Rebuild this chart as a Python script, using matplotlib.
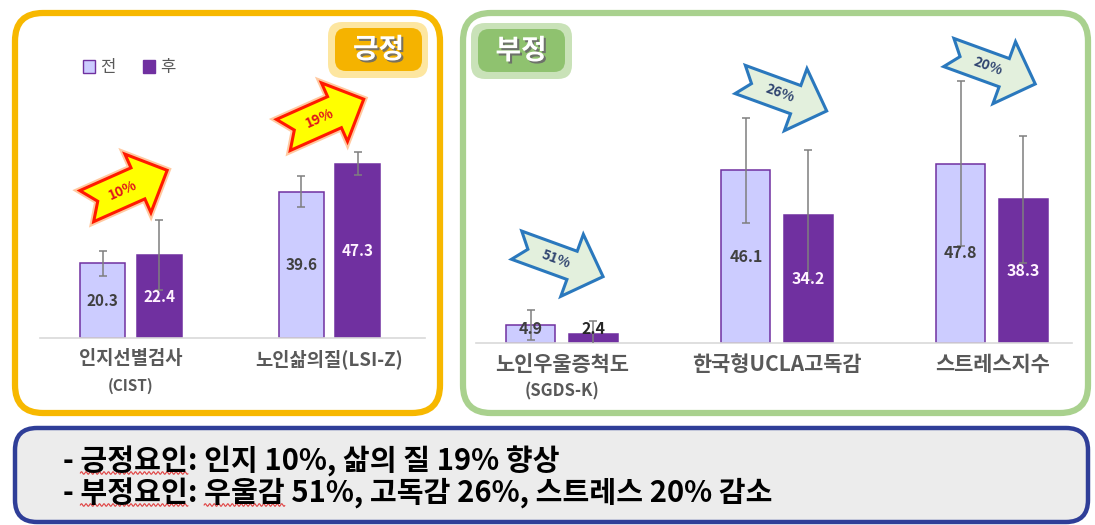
import numpy as np
import matplotlib
matplotlib.use('Agg')
import matplotlib.pyplot as plt
from matplotlib.patches import FancyBboxPatch, Polygon, Patch
from matplotlib.lines import Line2D
from matplotlib.transforms import Affine2D, ScaledTranslation
import matplotlib.patheffects as pe

plt.rcParams['font.family'] = ['Noto Sans CJK KR', 'DejaVu Sans']

# 긍정 요인 데이터
pos_cats = ['인지선별검사', '노인삶의질(LSI-Z)']
pos_sub = ['(CIST)', '']
pos_before = [20.3, 39.6]
pos_after = [22.4, 47.3]
pos_err_before = [3.4, 4.2]
pos_err_after = [9.5, 3.2]
pos_change = ['10%', '19%']

# 부정 요인 데이터
neg_cats = ['노인우울증척도', '한국형UCLA고독감', '스트레스지수']
neg_sub = ['(SGDS-K)', '', '']
neg_before = [4.9, 46.1, 47.8]
neg_after = [2.4, 34.2, 38.3]
neg_err_before = [4.0, 14.0, 22.0]
neg_err_after = [3.5, 17.4, 17.0]
neg_change = ['51%', '26%', '20%']

summary = ['- 긍정요인: 인지 10%, 삶의 질 19% 향상',
           '- 부정요인: 우울감 51%, 고독감 26%, 스트레스 20% 감소']

LIGHT = '#ccccff'
PURPLE = '#7030a0'
SUMMARY_FS = 21

W, H = 1095, 525
fig = plt.figure(figsize=(W / 100, H / 100), dpi=100)


# 픽셀 좌표(위 기준)로 둥근 상자 그리기
def rbox(x0, y0, x1, y1, r, **kw):
    p = FancyBboxPatch((x0 / 100, (H - y1) / 100), (x1 - x0) / 100, (y1 - y0) / 100,
                       boxstyle=f'round,pad=0,rounding_size={r / 100}',
                       transform=fig.dpi_scale_trans, **kw)
    fig.add_artist(p)
    return p


# 패널 테두리
rbox(15, 13, 440, 413, 28, fc='white', ec='#f7b800', lw=4.5, zorder=-5)
rbox(463, 13, 1088, 413, 28, fc='white', ec='#a9d18e', lw=4.5, zorder=-5)
rbox(15, 428, 1088, 522, 22, fc='#ececec', ec='#2f3e98', lw=3.2, zorder=-5)

# 배지
shadow = [pe.SimplePatchShadow(offset=(1.5, -1.5), shadow_rgbFace='#6a6a6a', alpha=0.9), pe.Normal()]
rbox(328, 22, 428, 78, 14, fc='#fde6a0', ec='none', zorder=1)
rbox(335, 28, 422, 71, 11, fc='#f5b300', ec='none', zorder=1)
fig.text(378.5 / W, 1 - 50 / H, '긍정', fontsize=20, fontweight='bold', color='white',
         ha='center', va='center', path_effects=shadow)
rbox(471, 23, 572, 79, 14, fc='#c9e2b8', ec='none', zorder=1)
rbox(478, 29, 565, 72, 11, fc='#8fc26f', ec='none', zorder=1)
fig.text(521 / W, 1 - 51 / H, '부정', fontsize=20, fontweight='bold', color='white',
         ha='center', va='center', path_effects=shadow)


def notched_arrow(ax, x, y, ang, L, hs, hh, hl, notch, fc, ec, text, tc, italic, glow=None):
    pts = np.array([[-L / 2, hs], [-L / 2 + notch, 0], [-L / 2, -hs], [L / 2 - hl, -hs],
                    [L / 2 - hl, -hh], [L / 2, 0], [L / 2 - hl, hh], [L / 2 - hl, hs]])
    tr = Affine2D().rotate_deg(ang) + ScaledTranslation(x, y, ax.transData)
    poly = Polygon(pts, closed=True, fc=fc, ec=ec, lw=2.2, transform=tr, clip_on=False,
                   zorder=5, joinstyle='miter')
    if glow:
        poly.set_path_effects([pe.Stroke(linewidth=5, foreground=glow), pe.Normal()])
    ax.add_patch(poly)
    ax.text(-4 * np.cos(np.radians(ang)), -4 * np.sin(np.radians(ang)), text,
            transform=ScaledTranslation(x, y, ax.transData), rotation=ang,
            rotation_mode='anchor', ha='center', va='center', fontsize=10,
            fontweight='bold', style='italic' if italic else 'normal', color=tc,
            zorder=6, clip_on=False)


def draw_panel(ax, cats, subs, before, after, eb, ea, width, off, xlim, fs, cat_fs, sub_fs):
    x = np.arange(len(cats))
    ax.bar(x - off, before, width, color=LIGHT, edgecolor=PURPLE, linewidth=1.1, zorder=2, label='전')
    ax.bar(x + off, after, width, color=PURPLE, edgecolor=PURPLE, linewidth=1.1, zorder=2, label='후')
    ax.errorbar(x - off, before, yerr=eb, fmt='none', ecolor='#7f7f7f', elinewidth=1.1,
                capsize=3, capthick=1.1, zorder=3)
    ax.errorbar(x + off, after, yerr=ea, fmt='none', ecolor='#7f7f7f', elinewidth=1.1,
                capsize=3, capthick=1.1, zorder=3)
    for xi, v in zip(x - off, before):
        ax.text(xi, max(v / 2, 3.7), f'{v}', ha='center', va='center', fontsize=fs,
                fontweight='bold', color='#404040', zorder=4)
    for xi, v in zip(x + off, after):
        ax.text(xi, max(v / 2, 3.7), f'{v}', ha='center', va='center', fontsize=fs,
                fontweight='bold', color='#fff2ff' if v > 10 else '#262626', zorder=4)
    ax.set_xlim(*xlim)
    ax.set_ylim(0, 83.5)
    ax.set_facecolor('none')
    for s in ['top', 'right', 'left']:
        ax.spines[s].set_visible(False)
    ax.spines['bottom'].set_color('#d9d9d9')
    ax.spines['bottom'].set_linewidth(1.2)
    ax.set_yticks([])
    ax.set_xticks(x, cats)
    ax.tick_params(axis='x', length=0, pad=8, labelsize=cat_fs, labelcolor='#595959')
    for lab in ax.get_xticklabels():
        lab.set_fontweight('bold')
    for xi, s in zip(x, subs):
        if s:
            ax.annotate(s, xy=(xi, 0), xycoords=('data', 'axes fraction'), xytext=(0, -48),
                        textcoords='offset pixels', ha='center', va='center', fontsize=sub_fs,
                        fontweight='bold', color='#595959')


axL = fig.add_axes([40 / W, 1 - 338 / H, 385 / W, 308 / H])
draw_panel(axL, pos_cats, pos_sub, pos_before, pos_after, pos_err_before, pos_err_after,
           0.227, 0.142, (-0.458, 1.481), 11, 13.5, 11)
axL.legend(handles=[Patch(fc=LIGHT, ec=PURPLE, lw=1, label='전'), Patch(fc=PURPLE, ec=PURPLE, label='후')],
           loc='center left', bbox_to_anchor=(0.09, 0.877), ncol=2, frameon=False,
           handlelength=0.75, handleheight=0.75, handletextpad=0.3, columnspacing=1.6,
           borderpad=0, fontsize=12, labelcolor='#595959')

axR = fig.add_axes([476 / W, 1 - 343 / H, 596 / W, 313 / H])
draw_panel(axR, neg_cats, neg_sub, neg_before, neg_after, neg_err_before, neg_err_after,
           0.228, 0.145, (-0.4, 2.372), 11.5, 15, 12)

# 변화율 화살표
pos_arrow_xy = [(-0.02, 40.6), (0.97, 59.9)]
for (ax_x, ax_y), t in zip(pos_arrow_xy, pos_change):
    notched_arrow(axL, ax_x, ax_y, 24, 88, 17, 32, 32, 12, '#ffff00', '#ff1a00', t,
                  '#e0141c', False, glow='#ffc9a0')

neg_arrow_xy = [(-0.01, 21.9), (1.03, 66.1), (2.0, 73.3)]
for (ax_x, ax_y), t in zip(neg_arrow_xy, neg_change):
    notched_arrow(axR, ax_x, ax_y, -20, 92, 15, 33, 33, 12, '#e3f0dd', '#2a78bd', t,
                  '#2f4470', True)

# 요약 문구
texts = []
for i, line in enumerate(summary):
    texts.append(fig.text(63 / W, 1 - (461 + 32 * i) / H, line, fontsize=SUMMARY_FS,
                          fontweight='bold', color='black', ha='left', va='center'))

# 맞춤법 밑줄(빨간 물결선)
renderer = fig.canvas.get_renderer()


def word_span(t, prefix, word):
    tmp = fig.text(*t.get_position(), prefix + word, fontsize=SUMMARY_FS, fontweight='bold',
                   ha='left', va='center')
    bb_end = tmp.get_window_extent(renderer)
    tmp.remove()
    tmp = fig.text(0, 0, word, fontsize=SUMMARY_FS, fontweight='bold')
    w = tmp.get_window_extent(renderer).width
    tmp.remove()
    return bb_end.x1 - w, bb_end.x1, bb_end.y0


for t, pre, wd in [(texts[0], '- ', '긍정요인'), (texts[1], '- ', '부정요인'),
                   (texts[1], '- 부정요인: ', '우울감')]:
    x0, x1, y0 = word_span(t, pre, wd)
    xs = np.linspace(x0, x1, 200)
    ys = y0 + 3 + 1.3 * np.sin(2 * np.pi * (xs - x0) / 4.5)
    fig.add_artist(Line2D(xs / 100, ys / 100, transform=fig.dpi_scale_trans,
                          color='#e04040', lw=0.8))

fig.savefig('out.png', dpi=100)
